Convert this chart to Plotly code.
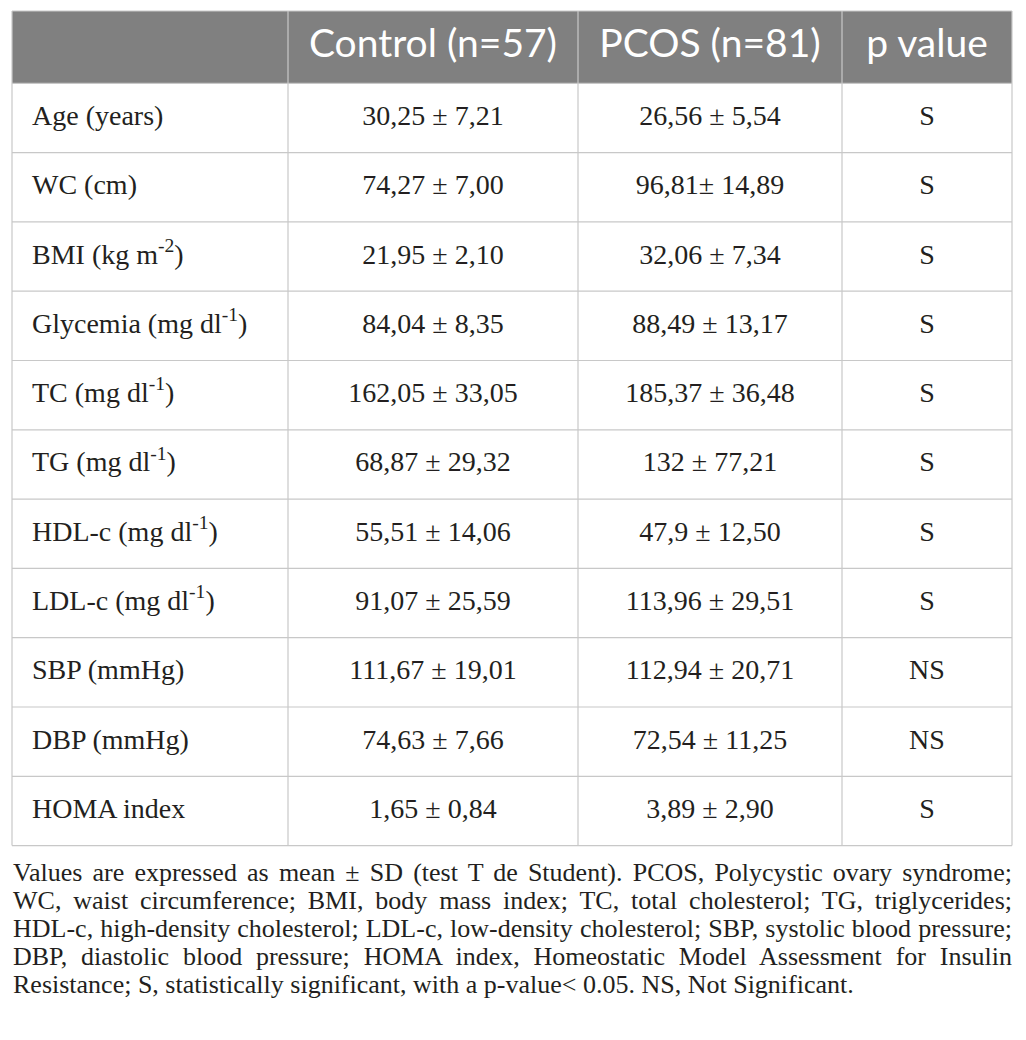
import plotly.graph_objects as go

header = ['', 'Control (n=57)', 'PCOS (n=81)', 'p value']

variables = ['Age (years)', 'WC (cm)', 'BMI (kg m<sup>-2</sup>)', 'Glycemia (mg dl<sup>-1</sup>)',
             'TC (mg dl<sup>-1</sup>)', 'TG (mg dl<sup>-1</sup>)', 'HDL-c (mg dl<sup>-1</sup>)',
             'LDL-c (mg dl<sup>-1</sup>)', 'SBP (mmHg)', 'DBP (mmHg)', 'HOMA index']
control = ['30,25 ± 7,21', '74,27 ± 7,00', '21,95 ± 2,10', '84,04 ± 8,35', '162,05 ± 33,05',
           '68,87 ± 29,32', '55,51 ± 14,06', '91,07 ± 25,59', '111,67 ± 19,01', '74,63 ± 7,66',
           '1,65 ± 0,84']
pcos = ['26,56 ± 5,54', '96,81± 14,89', '32,06 ± 7,34', '88,49 ± 13,17', '185,37 ± 36,48',
        '132 ± 77,21', '47,9 ± 12,50', '113,96 ± 29,51', '112,94 ± 20,71', '72,54 ± 11,25',
        '3,89 ± 2,90']
p_value = ['S', 'S', 'S', 'S', 'S', 'S', 'S', 'S', 'NS', 'NS', 'S']

footnote = [
    'Values are expressed as mean ± SD (test T de Student). PCOS, Polycystic ovary syndrome;',
    'WC, waist circumference; BMI, body mass index; TC, total cholesterol; TG, triglycerides;',
    'HDL-c, high-density cholesterol; LDL-c, low-density cholesterol; SBP, systolic blood pressure;',
    'DBP, diastolic blood pressure; HOMA index, Homeostatic Model Assessment for Insulin',
    'Resistance; S, statistically significant, with a p-value< 0.05. NS, Not Significant.',
]

# page body has an 8px margin, so the figure is shrunk and everything is shifted by it
OFF = 8
W, H = 1026 - OFF, 1040 - OFF

# table geometry in page pixels
col_edges = [12, 288, 578, 842, 1012]
top, header_h, row_h = 11, 72.3, 69.3
n_rows = len(variables)
row_edges = [top, top + header_h] + [top + header_h + row_h * (i + 1) for i in range(n_rows)]

def px(v):
    return v - OFF

line_col = '#c8c8c8'
text_col = '#231f20'
serif = 'Liberation Serif, Times New Roman, serif'
cell_font = dict(family=serif, size=28, color=text_col)

fig = go.Figure()

# cell text
row_y = [px((row_edges[i + 1] + row_edges[i + 2]) / 2) for i in range(n_rows)]
columns = [variables, control, pcos, p_value]
for j, vals in enumerate(columns):
    if j == 0:
        x = px(col_edges[0] + 20)
        pos = 'middle right'
    else:
        x = px((col_edges[j] + col_edges[j + 1]) / 2)
        pos = 'middle center'
    fig.add_trace(go.Scatter(
        x=[x] * len(vals), y=row_y, text=vals, mode='text',
        textposition=pos, textfont=cell_font, hoverinfo='skip', showlegend=False,
    ))

# header text (the first header cell is empty)
head_idx = [j for j, h in enumerate(header) if h]
head_y = px(top + header_h / 2)
fig.add_trace(go.Scatter(
    x=[px((col_edges[j] + col_edges[j + 1]) / 2) for j in head_idx],
    y=[head_y] * len(head_idx), text=[header[j] for j in head_idx],
    mode='text', textposition='middle center',
    textfont=dict(family='Lato, sans-serif', size=39, color='white'),
    hoverinfo='skip', showlegend=False,
))

# grid lines
lx, ly = [], []
for yv in row_edges:
    lx += [px(col_edges[0]), px(col_edges[-1]), None]
    ly += [px(yv), px(yv), None]
for xv in col_edges:
    lx += [px(xv), px(xv), None]
    ly += [px(row_edges[0]), px(row_edges[-1]), None]
fig.add_trace(go.Scatter(
    x=lx, y=ly, mode='lines', line=dict(color=line_col, width=1.2),
    hoverinfo='skip', showlegend=False,
))

# header background
fig.add_shape(
    type='rect', xref='x', yref='y', layer='below',
    x0=px(col_edges[0]), x1=px(col_edges[-1]), y0=px(row_edges[0]), y1=px(row_edges[1]),
    fillcolor='#808080', line_width=0,
)

# footnote lines
for i, txt in enumerate(footnote):
    fig.add_annotation(
        text=txt, xref='x', yref='y',
        x=px(11), y=px(872 + i * 28),
        xanchor='left', yanchor='middle', align='left', showarrow=False,
        font=dict(family=serif, size=26, color=text_col),
    )

fig.update_layout(
    width=W, height=H,
    margin=dict(l=0, r=0, t=0, b=0),
    paper_bgcolor='white', plot_bgcolor='white',
    xaxis=dict(range=[0, W], visible=False, fixedrange=True),
    yaxis=dict(range=[H, 0], visible=False, fixedrange=True),
)

# justify all footnote lines but the last one to the table width
justify_js = """
var gd = document.getElementById('{plot_id}');
var els = gd.querySelectorAll('.annotation-text');
var target = %d;
for (var k = 0; k < els.length - 1; k++) {
    var t = els[k];
    var len = t.getComputedTextLength();
    var gaps = (t.textContent.match(/ /g) || []).length;
    if (gaps > 0 && len < target) {
        t.style.wordSpacing = ((target - len) / gaps) + 'px';
    }
}
""" % (col_edges[-1] - col_edges[0] - 1)

fig.write_html('out.html', post_script=justify_js)
